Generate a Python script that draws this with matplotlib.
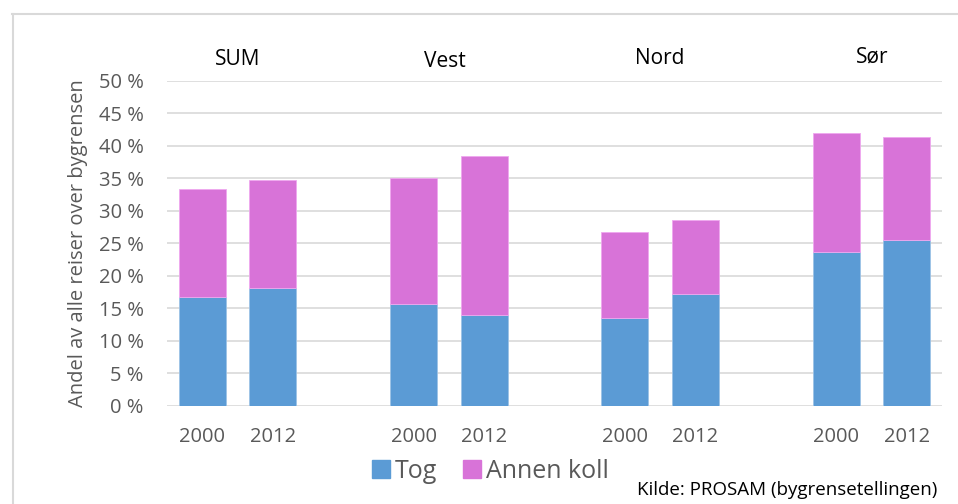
import matplotlib.pyplot as plt
from matplotlib.lines import Line2D
from matplotlib.ticker import FuncFormatter

# data (share of all trips across the city boundary)
groups = ['SUM', 'Vest', 'Nord', 'Sør']
years = ['2000', '2012']
tog = [16.7, 18.1, 15.7, 14.0, 13.5, 17.2, 23.6, 25.5]
annen_koll = [16.6, 16.7, 19.4, 24.4, 13.2, 11.4, 18.4, 15.9]

blue = '#5B9BD5'
pink = '#D873D8'
grey_text = '#595959'
grid_col = '#D9D9D9'

plt.rcParams['font.family'] = ['Open Sans', 'DejaVu Sans']

fig = plt.figure(figsize=(9.58, 5.04), dpi=100)
ax = fig.add_axes([0.1746, 0.195, 0.8085, 0.6444])

# two bars per group, one empty slot between groups
positions = []
labels = []
for g in range(len(groups)):
    for k, y in enumerate(years):
        positions.append(g * 3 + k)
        labels.append(y)

w = 0.667
ax.bar(positions, tog, w, color=blue, edgecolor='#9DC3E6', linewidth=0.6,
       label='Tog', zorder=3)
ax.bar(positions, annen_koll, w, bottom=tog, color=pink, edgecolor='#EFA8EF',
       linewidth=0.6, label='Annen koll', zorder=3)

ax.set_xlim(-0.5, positions[-1] + 0.5)
ax.set_ylim(0, 50)
ax.set_yticks(range(0, 51, 5))
ax.yaxis.set_major_formatter(FuncFormatter(lambda v, p: f'{v:.0f} %'))
ax.set_xticks(positions)
ax.set_xticklabels(labels)
ax.tick_params(axis='both', length=0, labelsize=14.5, colors=grey_text)
ax.tick_params(axis='x', pad=15)
ax.tick_params(axis='y', pad=17)
ax.grid(axis='y', color=grid_col, linewidth=1.2, zorder=0)
for s in ax.spines.values():
    s.set_visible(False)

ax.set_ylabel('Andel av alle reiser over bygrensen', fontsize=14.5,
              color=grey_text, labelpad=8)

# group titles above the bars
title_pos = [(0.248, 0.881), (0.4645, 0.877), (0.689, 0.883), (0.910, 0.887)]
for name, (x, y) in zip(groups, title_pos):
    fig.text(x, y, name, ha='center', va='center', fontsize=15, color='black')

handles = [Line2D([], [], marker='s', linestyle='', markersize=12.5, color=blue),
           Line2D([], [], marker='s', linestyle='', markersize=12.5, color=pink)]
fig.legend(handles, ['Tog', 'Annen koll'], loc='center',
           bbox_to_anchor=(0.51, 0.064), ncol=2, frameon=False, fontsize=18,
           handletextpad=0.05, columnspacing=0.9, handlelength=1.0,
           labelcolor=grey_text)

fig.text(0.978, 0.027, 'Kilde: PROSAM (bygrensetellingen)', ha='right',
         va='center', fontsize=13.5, color='black')

# light frame around the chart area (cut off on the right and bottom)
fig.add_artist(Line2D([0.0125, 1.0], [0.972, 0.972], color=grid_col,
                      linewidth=1.5, transform=fig.transFigure))
fig.add_artist(Line2D([0.0135, 0.0135], [0.0, 0.972], color=grid_col,
                      linewidth=1.5, transform=fig.transFigure))

fig.savefig('out.png', dpi=100)
